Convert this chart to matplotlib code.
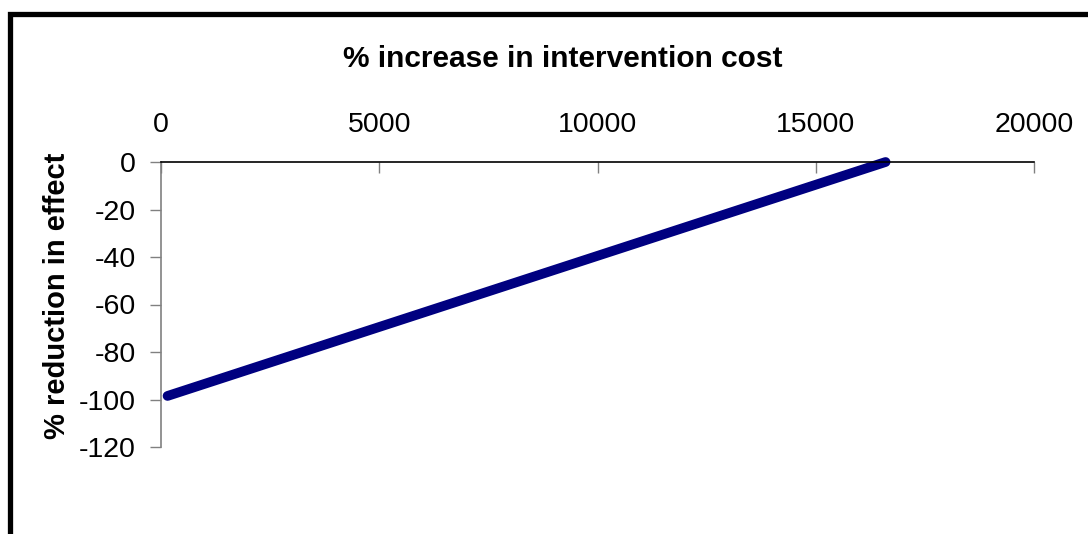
import matplotlib
matplotlib.use("Agg")
import matplotlib.pyplot as plt
from matplotlib.patches import Rectangle

plt.rcParams['font.family'] = ['Liberation Sans', 'DejaVu Sans']
plt.rcParams['axes.unicode_minus'] = False

# Sensitivity line: cost increase vs. effect reduction
cost_increase = [150, 16600]
effect_reduction = [-98.5, 0]

x_ticks = [0, 5000, 10000, 15000, 20000]
y_ticks = [0, -20, -40, -60, -80, -100, -120]

W, H = 1088, 534
fig = plt.figure(figsize=(W / 100, H / 100), dpi=100)

# Outer chart frame (extends past the right and bottom edges)
fig.patches.append(Rectangle((9.5 / W, -0.1), 1.2, 1 - 14.5 / H + 0.1,
                             transform=fig.transFigure, fill=False,
                             edgecolor='black', linewidth=3.8, zorder=0))

left, right, top, bottom = 161, 1034, 162, 447
ax = fig.add_axes([left / W, 1 - bottom / H, (right - left) / W, (bottom - top) / H])

ax.plot(cost_increase, effect_reduction, color='#000080', linewidth=7,
        solid_capstyle='round', clip_on=False)

ax.set_xlim(0, 20000)
ax.set_ylim(-120, 0)
ax.set_xticks(x_ticks)
ax.set_yticks(y_ticks)
ax.xaxis.tick_top()
ax.xaxis.set_label_position('top')
ax.tick_params(axis='x', direction='in', length=8, width=1, color='#808080',
               labelsize=20.5, pad=17)
ax.tick_params(axis='y', direction='out', length=8, width=1, color='#808080',
               labelsize=20.5, pad=10)
for s in ['right', 'bottom']:
    ax.spines[s].set_visible(False)
ax.spines['top'].set_color('black')
ax.spines['left'].set_color('#808080')
ax.spines['top'].set_linewidth(1.2)
ax.spines['left'].set_linewidth(1.2)

fig.text(563 / W, 1 - 59 / H, '% increase in intervention cost', ha='center',
         va='center', fontsize=21.5, fontweight='bold')
fig.text(57 / W, 1 - 296 / H, '% reduction in effect', ha='center', va='center',
         rotation=90, fontsize=21, fontweight='bold')

fig.savefig('out.png', dpi=100, facecolor='white')
